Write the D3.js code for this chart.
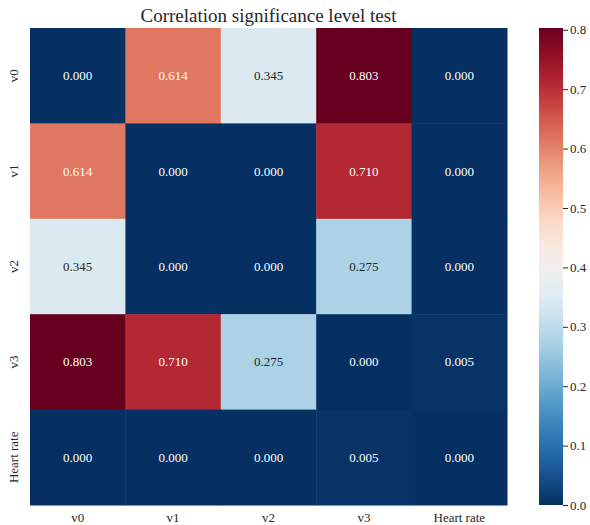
<!DOCTYPE html>
<html>
<head>
<meta charset="utf-8">
<script src="https://cdn.jsdelivr.net/npm/d3@7"></script>
<style>
  body { margin: 0; background: #fff; }
  text { font-family: "Liberation Serif", "Times New Roman", serif; }
</style>
</head>
<body>
<div id="chart"></div>
<script>
const labels = ['v0', 'v1', 'v2', 'v3', 'Heart rate'];
const values = [
  [0.000, 0.614, 0.345, 0.803, 0.000],
  [0.614, 0.000, 0.000, 0.710, 0.000],
  [0.345, 0.000, 0.000, 0.275, 0.000],
  [0.803, 0.710, 0.275, 0.000, 0.005],
  [0.000, 0.000, 0.000, 0.005, 0.000],
];
const colorTicks = [0.0, 0.1, 0.2, 0.3, 0.4, 0.5, 0.6, 0.7, 0.8];
const title = 'Correlation significance level test';

const width = 590, height = 525;
const margin = {top: 28, left: 30};
const size = 477;

const svg = d3.select('#chart').append('svg')
  .attr('width', width)
  .attr('height', height);

const vmax = d3.max(values.flat());
const color = v => d3.interpolateRdBu(1 - v / vmax);

const x = d3.scaleBand().domain(labels).range([0, size]);
const y = d3.scaleBand().domain(labels).range([0, size]);

const g = svg.append('g').attr('transform', `translate(${margin.left},${margin.top})`);

const cells = values.flatMap((row, i) => row.map((v, j) => ({row: labels[i], col: labels[j], v})));

// luminance like seaborn's annotation colour choice
function textColor(v) {
  const c = d3.rgb(color(v));
  const lin = [c.r, c.g, c.b].map(u => {
    u /= 255;
    return u <= 0.03928 ? u / 12.92 : Math.pow((u + 0.055) / 1.055, 2.4);
  });
  const lum = 0.2126 * lin[0] + 0.7152 * lin[1] + 0.0722 * lin[2];
  return lum > 0.408 ? '#262626' : '#ffffff';
}

g.selectAll('rect.cell').data(cells).enter()
  .append('rect')
    .attr('class', 'cell')
    .attr('x', d => x(d.col))
    .attr('y', d => y(d.row))
    .attr('width', x.bandwidth() + 0.5)
    .attr('height', y.bandwidth() + 0.5)
    .attr('fill', d => color(d.v));

g.selectAll('text.annot').data(cells).enter()
  .append('text')
    .attr('class', 'annot')
    .attr('x', d => x(d.col) + x.bandwidth() / 2)
    .attr('y', d => y(d.row) + y.bandwidth() / 2)
    .attr('dy', '0.35em')
    .attr('text-anchor', 'middle')
    .attr('font-size', 13)
    .attr('fill', d => textColor(d.v))
    .text(d => d.v.toFixed(3));

// x axis
const xAxis = g.append('g').attr('transform', `translate(0,${size})`)
  .call(d3.axisBottom(x).tickSize(0).tickPadding(8));
xAxis.select('.domain').remove();
xAxis.selectAll('text').attr('font-size', 13).attr('fill', '#262626')
  .style('font-family', '"Liberation Serif", serif');

// y axis
const yAxis = g.append('g')
  .call(d3.axisLeft(y).tickSize(0).tickPadding(0));
yAxis.select('.domain').remove();
yAxis.selectAll('text')
  .attr('font-size', 13).attr('fill', '#262626')
  .style('font-family', '"Liberation Serif", serif')
  .attr('x', 0).attr('dy', 0)
  .attr('text-anchor', 'middle')
  .attr('transform', 'translate(-12,0) rotate(-90)');

// title
svg.append('text')
  .attr('x', margin.left + size / 2)
  .attr('y', 22)
  .attr('text-anchor', 'middle')
  .attr('font-size', 19)
  .attr('fill', '#262626')
  .text(title);

// colorbar
const cbX = 539, cbW = 24;
const cScale = d3.scaleLinear().domain([0, vmax]).range([margin.top + size, margin.top]);
const defs = svg.append('defs');
const grad = defs.append('linearGradient').attr('id', 'cbgrad')
  .attr('x1', 0).attr('y1', 1).attr('x2', 0).attr('y2', 0);
d3.range(0, 1.0001, 0.05).forEach(t => {
  grad.append('stop').attr('offset', t).attr('stop-color', color(t * vmax));
});
svg.append('rect')
  .attr('x', cbX).attr('y', margin.top)
  .attr('width', cbW).attr('height', size)
  .attr('fill', 'url(#cbgrad)');

const cAxis = svg.append('g').attr('transform', `translate(${cbX + cbW},0)`)
  .call(d3.axisRight(cScale).tickValues(colorTicks).tickFormat(d3.format('.1f')).tickSize(5).tickPadding(2));
cAxis.select('.domain').remove();
cAxis.selectAll('line').attr('stroke', '#262626');
cAxis.selectAll('text').attr('font-size', 13).attr('fill', '#262626')
  .style('font-family', '"Liberation Serif", serif');
</script>
</body>
</html>
